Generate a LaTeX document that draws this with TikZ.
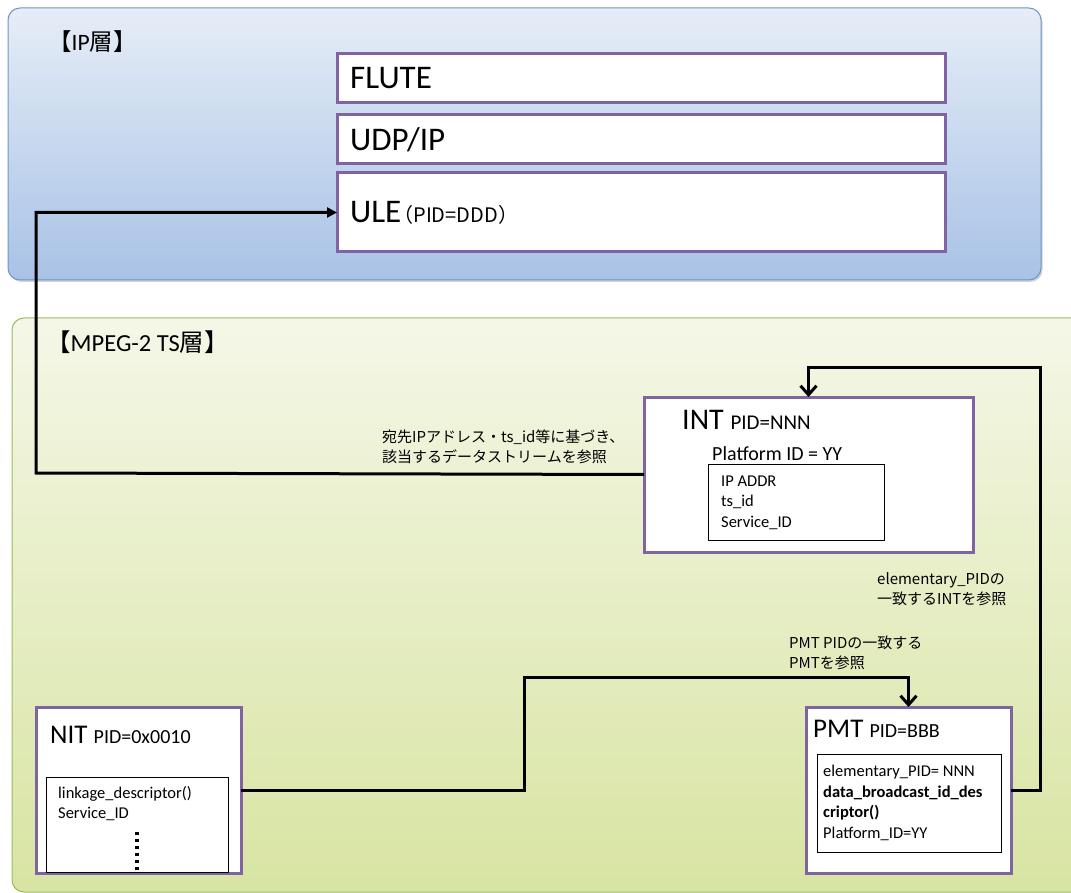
\documentclass[tikz,border=0pt]{standalone}
\usepackage{fontspec}
\setmainfont{Carlito}
\newfontfamily\jpfont{Noto Sans CJK JP}
\usetikzlibrary{positioning,shadows,arrows.meta}

\definecolor{tblpurple}{HTML}{8064A2}
\definecolor{iptop}{HTML}{E6EDF7}
\definecolor{ipbottom}{HTML}{A8C2E6}
\definecolor{ipline}{HTML}{6F95C9}
\definecolor{tstop}{HTML}{F4F7E7}
\definecolor{tsbottom}{HTML}{D8E4A2}
\definecolor{tsline}{HTML}{9BBB59}

\begin{document}
\begin{tikzpicture}[
    x=1pt, y=-1pt,
    font=\fontsize{16.5}{20.5}\selectfont,
    layer/.style={
      rounded corners=12pt,
      line width=1pt,
      anchor=north west,
      inner sep=0,
      outer sep=0
    },
    iplayer/.style={layer, draw=ipline, top color=iptop, bottom color=ipbottom,
      drop shadow={shadow xshift=1.5pt, shadow yshift=-2pt, opacity=.35}},
    tslayer/.style={layer, draw=tsline, top color=tstop, bottom color=tsbottom},
    layertitle/.style={anchor=west, inner sep=0, font=\fontsize{23.5}{26}\selectfont},
    proto/.style={draw=tblpurple, line width=3pt, fill=white, anchor=north west,
      inner sep=0, outer sep=0, minimum width=608pt},
    protoname/.style={inner sep=0, font=\fontsize{33}{36}\selectfont},
    tablebox/.style={draw=tblpurple, line width=3pt, fill=white, anchor=north west,
      inner sep=0, outer sep=0},
    tablehead/.style={anchor=base west, inner sep=0},
    fieldbox/.style={draw=black, line width=1pt, fill=white, anchor=north west,
      inner sep=0, outer sep=0},
    fieldlist/.style={anchor=base west, align=left, inner sep=0},
    note/.style={anchor=west, align=left, inner sep=0,
      font=\jpfont\fontsize{15}{20.5}\selectfont},
    link/.style={draw=black, line width=3pt},
    tip/.style={-{Triangle[length=10pt,width=10pt]}},
    barb/.style={-{Straight Barb[length=9pt,width=16pt,line width=3pt]}}
  ]

  \useasboundingbox (0,0) rectangle (1071,893);

  % IP layer
  \node [iplayer] (ip) at (8,8) [minimum width=1033pt, minimum height=272pt] {};
  \node [layertitle] (iptitle) at (48,42) {{\jpfont 【}IP{\jpfont 層】}};

  \node [proto, minimum height=49pt] (flute) at (337,54) {};
  \node [proto, minimum height=49pt] (udp) at (337,115) {};
  \node [proto, minimum height=79pt] (ule) at (337,173) {};

  \node [protoname, right=13pt of flute.west] (flutetxt) {FLUTE};
  \node [protoname, right=13pt of udp.west] (udptxt) {UDP/IP};
  \node [protoname, right=13pt of ule.west] (uletxt) {ULE{\jpfont\fontsize{20}{22}\selectfont\hspace{-.4em}（PID=DDD）}};

  % MPEG-2 TS layer
  \node [tslayer] (ts) at (12,318) [minimum width=1090pt, minimum height=574pt] {};
  \node [layertitle, font=\fontsize{24.5}{27}\selectfont] (tstitle) at (46,342) {{\jpfont 【}MPEG-2 TS{\jpfont 層】}};

  % INT
  \node [tablebox] (int) at (644,397) [minimum width=329pt, minimum height=155pt] {};
  \node [tablehead, font=\fontsize{30}{32}\selectfont] (inthead) at (682,429) {INT {\fontsize{21}{24}\selectfont PID=NNN}};
  \node [tablehead, font=\fontsize{20}{24}\selectfont] (intpf) at (712,460) {Platform ID = YY};
  \node [fieldbox] (intfields) at (708,464) [minimum width=176pt, minimum height=76pt] {};
  \node [fieldlist] (intlist) at (721,527) {IP ADDR\\ts\_id\\Service\_ID};

  % NIT
  \node [tablebox] (nit) at (36,707) [minimum width=205pt, minimum height=166pt] {};
  \node [tablehead, font=\fontsize{27}{30}\selectfont] (nithead) at (50,743) {NIT {\fontsize{20}{24}\selectfont PID=0x0010}};
  \node [fieldbox] (nitfields) at (46,777) [minimum width=182pt, minimum height=95pt] {};
  \node [fieldlist] (nitlist) at (58,818.5) {linkage\_descriptor()\\Service\_ID};
  \draw [line width=3.5pt, dash pattern=on 3pt off 4pt] (nitfields.south) ++(0,-2) -- ++(0,-38);

  % PMT
  \node [tablebox] (pmt) at (806,707) [minimum width=205pt, minimum height=166pt] {};
  \node [tablehead, font=\fontsize{27}{30}\selectfont] (pmthead) at (813,737) {PMT {\fontsize{20}{24}\selectfont PID=BBB}};
  \node [fieldbox] (pmtfields) at (817,754) [minimum width=184pt, minimum height=98pt] {};
  \node [fieldlist] (pmtlist) at (823,838) {elementary\_PID= NNN\\\textbf{data\_broadcast\_id\_des}\\\textbf{criptor()}\\Platform\_ID=YY};

  % connectors
  \coordinate (ulebend) at (36,473);
  \coordinate (intbend) at (1040,367);
  \coordinate (pmtbend) at (524,677);

  \draw [link, tip] (int.west) -- (ulebend) |- (ule.west);
  \draw [link, barb] (pmt.east) -| (intbend) -| (int.north);
  \draw [link, barb] (nit.east) -| (pmtbend) -| (pmt.north);

  \node [note] (ulenote) at (382,447) {宛先IPアドレス・ts\_id等に基づき、\\該当するデータストリームを参照};
  \node [note] (intnote) at (877,589) {elementary\_PIDの\\一致するINTを参照};
  \node [note] (pmtnote) at (789,653) {PMT PIDの一致する\\PMTを参照};

\end{tikzpicture}
\end{document}
